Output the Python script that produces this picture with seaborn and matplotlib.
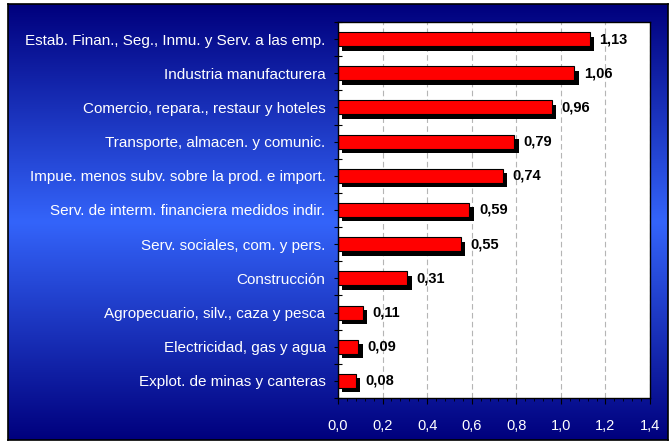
import numpy as np
import matplotlib
matplotlib.use("Agg")
import matplotlib.pyplot as plt
import matplotlib.patheffects as pe
from matplotlib.ticker import MultipleLocator, FuncFormatter
import seaborn as sns

sectors = [
    "Estab. Finan., Seg., Inmu. y Serv. a las emp.",
    "Industria manufacturera",
    "Comercio, repara., restaur y hoteles",
    "Transporte, almacen. y comunic.",
    "Impue. menos subv. sobre la prod. e import.",
    "Serv. de interm. financiera medidos indir.",
    "Serv. sociales, com. y pers.",
    "Construcción",
    "Agropecuario, silv., caza y pesca",
    "Electricidad, gas y agua",
    "Explot. de minas y canteras",
]
values = [1.13, 1.06, 0.96, 0.79, 0.74, 0.59, 0.55, 0.31, 0.11, 0.09, 0.08]
x_ticks = [0.0, 0.2, 0.4, 0.6, 0.8, 1.0, 1.2, 1.4]

sns.set_style("white")
plt.rcParams["font.family"] = ["Liberation Sans", "DejaVu Sans"]

W, H = 670, 442
fig = plt.figure(figsize=(W / 100, H / 100), dpi=100, facecolor="white")

# blue gradient background (dark at top/bottom, light in the middle)
bg = fig.add_axes([8 / W, 2 / H, 660 / W, 436 / H], zorder=0)
t = np.linspace(0, 1, 400)
w = 1 - np.abs(t - 0.5) * 2
dark = np.array([0, 0, 125]) / 255
light = np.array([52, 100, 250]) / 255
grad = dark[None, :] + (light - dark)[None, :] * w[:, None]
bg.imshow(grad[:, None, :], aspect="auto", extent=[0, 1, 0, 1])
bg.set_xticks([])
bg.set_yticks([])
for s in bg.spines.values():
    s.set_color("black")
    s.set_linewidth(1.2)

ax = fig.add_axes([338 / W, 1 - 398 / H, 312 / W, 376 / H], zorder=1)
ax.set_facecolor("white")

sns.barplot(x=values, y=sectors, orient="h", color="#ff0000", saturation=1,
            width=0.41, edgecolor="black", linewidth=0.8, ax=ax)

for p in ax.patches:
    p.set_path_effects([
        pe.SimplePatchShadow(offset=(3.2, -3.2), shadow_rgbFace="black", alpha=1),
        pe.Normal(),
    ])

for i, v in enumerate(values):
    ax.annotate(f"{v:.2f}".replace(".", ","), xy=(v, i), xytext=(7, 0),
                textcoords="offset points", ha="left", va="center",
                fontsize=10.5, fontweight="bold", color="black")

ax.set_xlim(0, 1.4)
ax.set_ylim(len(sectors) - 0.5, -0.5)
ax.set_xticks(x_ticks)
ax.xaxis.set_major_formatter(FuncFormatter(lambda x, _: f"{x:.1f}".replace(".", ",")))
ax.xaxis.set_minor_locator(MultipleLocator(0.04))
ax.set_yticks(np.arange(-0.5, len(sectors), 1), minor=True)

ax.grid(True, axis="x", which="major", color="#b5b5b5", linestyle=(0, (5, 3)), linewidth=0.8)
ax.set_axisbelow(True)

ax.tick_params(axis="x", which="major", direction="out", length=4, width=0.8,
               colors="black", labelcolor="white", labelsize=10.5, pad=11)
ax.tick_params(axis="x", which="minor", direction="out", length=2.5, width=0.6, colors="black")
ax.tick_params(axis="y", which="major", direction="out", length=3, width=0.8,
               colors="black", labelcolor="white", labelsize=11, pad=6)
ax.tick_params(axis="y", which="minor", direction="inout", length=6, width=0.8, colors="black")
ax.tick_params(bottom=True, left=True, which="both")

for s in ax.spines.values():
    s.set_color("black")
    s.set_linewidth(1.0)

ax.set_xlabel("")
ax.set_ylabel("")

fig.savefig("out.png", dpi=100, facecolor="white")
